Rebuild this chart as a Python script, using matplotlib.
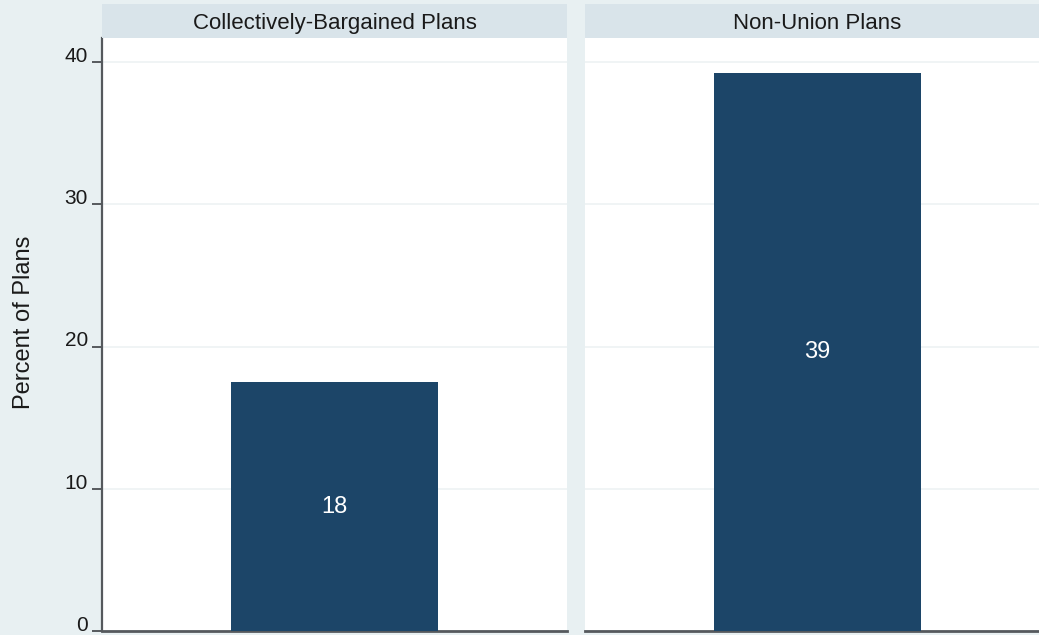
import numpy as np
import matplotlib.pyplot as plt

plt.rcParams['font.family'] = ['Liberation Sans', 'DejaVu Sans']

panels = ['Collectively-Bargained Plans', 'Non-Union Plans']
percent = [17.5, 39.2]
yticks = [0, 10, 20, 30, 40]

bg = '#e8f0f2'
strip_col = '#d9e4ea'
bar_col = '#1c4568'
spine_col = '#55595d'
text_col = '#1a1a1a'

fig = plt.figure(figsize=(10.39, 6.35), dpi=100, facecolor=bg)

W, H = 1039, 635
lefts = [102, 585]
pw = 465
ax_top, ax_bot = 38, 631
strip_top = 4

for i, (name, val) in enumerate(zip(panels, percent)):
    x0 = lefts[i] / W
    ax = fig.add_axes([x0, (H - ax_bot) / H, pw / W, (ax_bot - ax_top) / H])
    ax.set_facecolor('white')
    ax.bar([0], [val], width=0.89, color=bar_col, zorder=3)
    ax.text(0, val / 2, '%.0f' % val, ha='center', va='center',
            color='white', fontsize=17, zorder=4)
    ax.set_xlim(-1, 1)
    ax.set_ylim(0, 40 + (ax_bot - ax_top - 569) / 14.225)
    ax.set_yticks(yticks)
    ax.grid(axis='y', color='#eef2f3', linewidth=1.2, zorder=0)
    ax.set_xticks([])
    for s in ['top', 'right']:
        ax.spines[s].set_visible(False)
    ax.spines['bottom'].set_color(spine_col)
    ax.spines['bottom'].set_linewidth(2)
    if i == 0:
        ax.spines['left'].set_color(spine_col)
        ax.spines['left'].set_linewidth(1.6)
        ax.tick_params(axis='y', length=7, width=1.4, color=spine_col,
                       labelsize=15, pad=3, labelcolor=text_col)
        # labels sit on top of their tick marks
        plt.setp(ax.get_yticklabels(), va='baseline')
    else:
        ax.spines['left'].set_visible(False)
        ax.tick_params(axis='y', length=0, labelleft=False)

    # panel title strip
    sx = fig.add_axes([x0, (H - ax_top) / H, pw / W, (ax_top - strip_top) / H])
    sx.set_facecolor(strip_col)
    sx.set_xticks([])
    sx.set_yticks([])
    for s in sx.spines.values():
        s.set_visible(False)
    sx.text(0.5, 0.42, name, ha='center', va='center', fontsize=16,
            color=text_col, transform=sx.transAxes)

fig.text(24 / W, (H - 322) / H, 'Percent of Plans', rotation=90,
         ha='center', va='center', fontsize=17, color=text_col)

fig.savefig('out.png', dpi=100, facecolor=bg)
